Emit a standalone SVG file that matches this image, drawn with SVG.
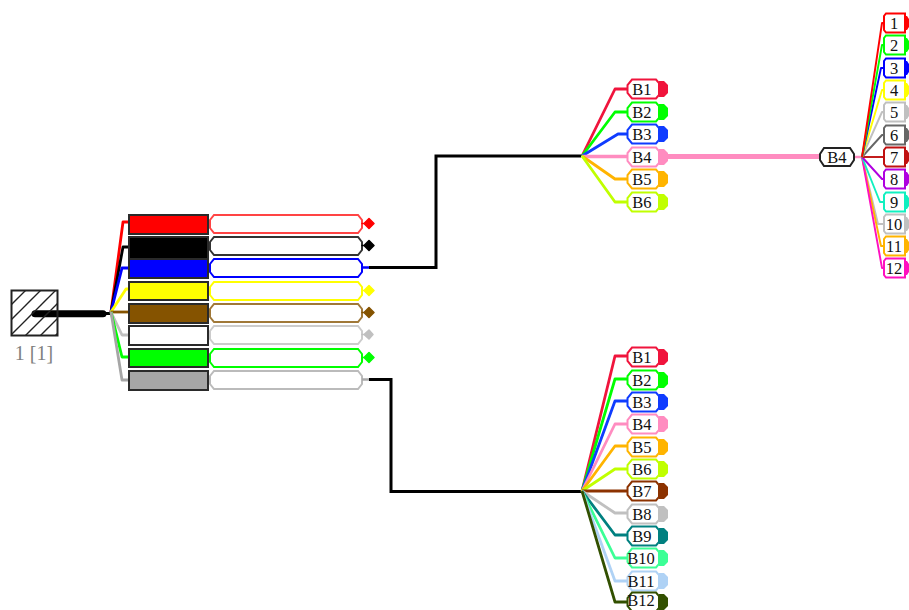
<svg xmlns="http://www.w3.org/2000/svg" xmlns:xlink="http://www.w3.org/1999/xlink" width="909" height="610" viewBox="0 0 909 610">
<style>
text{font-family:"Liberation Serif","Times New Roman",serif;font-size:16.5px;fill:#111;text-anchor:middle}
.w{fill:none;stroke-linejoin:round}
.w2{stroke-width:2.8}
.w1{stroke-width:1.9}
.bar{stroke:#2a2a2a;stroke-width:2}
.cap{fill:#fff;stroke-width:2}
.hub{fill:none;stroke:#000;stroke-width:3}
.d{stroke-width:1.5;stroke-linejoin:round}
</style>
<defs>
<pattern id="hatch" width="15" height="15" patternUnits="userSpaceOnUse" patternTransform="translate(11 290)">
<path d="M-2 17L17 -2M-2 2L2 -2M13 17L17 13" stroke="#222" stroke-width="1.4" fill="none"/>
</pattern>
<path id="long" d="M214 1H358L362 6V14L358 19H214L210 14V6Z"/>
<path id="b" d="M632 -9.500H656L659 -6V6L656 9.500H632L627.500 4V-4Z"/>
<path id="bt" d="M658 -5H659V-8H664L668 -4V4L664 8H659V5H658Z"/>
<path id="s" d="M886 -9.500H905V9.500H886L884 7V-7Z"/>
<path id="st" d="M904 -7H907L909 -4V4L907 7H904Z"/>
</defs>

<g id="connectors">
<g id="trunk">
<path d="M35 313.700H103" stroke="#000" stroke-width="7" stroke-linecap="round" fill="none"/>
<path d="M105 313.500H111" stroke="#000" stroke-width="3" fill="none"/>
</g>
<path class="hub" d="M369 267.500H436V156H581"/>
<path class="hub" d="M369 379.500H391V491.500H581"/>
<g class="w w2">
<path stroke="#f00" d="M111 312L123 222H129"/>
<path stroke="#000" d="M111 312L123 247H129"/>
<path stroke="#00f" d="M111 312L122 268H129"/>
<path stroke="#ff0" d="M111 312L126 289H129"/>
<path stroke="#855300" d="M111 312H129"/>
<path stroke="#c0c0c0" d="M111 312L122 335H129"/>
<path stroke="#0f0" d="M111 312L122 357H129"/>
<path stroke="#a6a6a6" d="M111 312L122 380H129"/>
</g>
<g class="w w2">
<path stroke="#f0143c" d="M582 156L615 89H628"/>
<path stroke="#0f0" d="M582 156L615 112H628"/>
<path stroke="#0f3cff" d="M582 156L618 134H628"/>
<path stroke="#ff8cc0" stroke-width="3.500" d="M582 156.500H628"/>
<path stroke="#ffb400" d="M582 156L615 179H628"/>
<path stroke="#c0ff00" d="M582 156L615 202H628"/>
</g>
<path d="M667 156.500H820" stroke="#ff8cc0" stroke-width="5" fill="none"/>
<path d="M855 157H862" stroke="#ff8cc0" stroke-width="2.500" fill="none"/>
<g class="w w1">
<path stroke="#c0c0c0" d="M862 157L878 224H884"/>
<path stroke="#ffb400" d="M862 157L881 246H884"/>
<path stroke="#ff10c0" d="M862 157L882 268H884"/>
<path stroke="#10f0c0" d="M862 157L880 202H884"/>
<path stroke="#b000e0" d="M862 157L882 179H884"/>
<path stroke="#c01010" d="M862 157H884"/>
<path stroke="#666" d="M862 157L882 135H884"/>
<path stroke="#c0c0c0" d="M862 157L882 112H884"/>
<path stroke="#ff0" d="M862 157L882 90H884"/>
<path stroke="#00f" d="M862 157L881 68H884"/>
<path stroke="#0f0" d="M862 157L882 45H884"/>
<path stroke="#f00" d="M862 157L882 23H884"/>
</g>
<g class="w w2">
<path stroke="#f0143c" d="M582 491L615 356H628"/>
<path stroke="#0f0" d="M582 491L615 379H628"/>
<path stroke="#0f3cff" d="M582 491L615 401H628"/>
<path stroke="#ff8cc0" d="M582 491L615 424H628"/>
<path stroke="#ffb400" d="M582 491L615 446H628"/>
<path stroke="#c0ff00" d="M582 491L615 469H628"/>
<path stroke="#8c3200" d="M582 491H628"/>
<path stroke="#c0c0c0" d="M582 491L615 513H628"/>
<path stroke="#008080" d="M582 491L615 535H628"/>
<path stroke="#3cff96" d="M582 491L615 558H628"/>
<path stroke="#afd2f5" d="M582 491L615 581H628"/>
<path stroke="#325000" d="M582 491L615 602H628"/>
</g>
</g>

<g id="source">
<rect x="11.500" y="290.500" width="46" height="45" fill="url(#hatch)" stroke="#222" stroke-width="2"/>
<text x="34" y="360" style="font-size:20px;fill:#808080">1 [1]</text>
</g>

<g id="bars">
<rect id="bar1" class="bar" x="129" y="215" width="79" height="19" fill="#f00"/>
<rect id="bar2" class="bar" x="129" y="237" width="79" height="22" fill="#000"/>
<rect id="bar3" class="bar" x="129" y="259" width="79" height="19" fill="#00f"/>
<rect id="bar4" class="bar" x="129" y="282" width="79" height="18" fill="#ff0"/>
<rect id="bar5" class="bar" x="129" y="304" width="79" height="19" fill="#855300"/>
<rect id="bar6" class="bar" x="129" y="326" width="79" height="19" fill="#fff"/>
<rect id="bar7" class="bar" x="129" y="349" width="79" height="18" fill="#0f0"/>
<rect id="bar8" class="bar" x="129" y="371" width="79" height="19" fill="#a6a6a6"/>
</g>

<g id="sheaths">
<g id="sheath1"><use xlink:href="#long" class="cap" stroke="#f44" y="214"/><path class="d" d="M362 223.500H364L369 218.500L374 223.500L369 228.500L364 223.500Z" fill="#f00" stroke="#f00"/></g>
<g id="sheath2"><use xlink:href="#long" class="cap" stroke="#333" y="236"/><path class="d" d="M362 245.500H364L369 240.500L374 245.500L369 250.500L364 245.500Z" fill="#000" stroke="#000"/></g>
<g id="sheath3"><use xlink:href="#long" class="cap" stroke="#00f" y="258"/><path d="M362 267.500H369" stroke="#00f" stroke-width="2.500"/></g>
<g id="sheath4"><use xlink:href="#long" class="cap" stroke="#ff0" y="281"/><path class="d" d="M362 290.500H364L369 285.500L374 290.500L369 295.500L364 290.500Z" fill="#ff0" stroke="#ff0"/></g>
<g id="sheath5"><use xlink:href="#long" class="cap" stroke="#a07838" y="303"/><path class="d" d="M362 312.500H364L369 307.500L374 312.500L369 317.500L364 312.500Z" fill="#855300" stroke="#855300"/></g>
<g id="sheath6"><use xlink:href="#long" class="cap" stroke="#ccc" y="325"/><path class="d" d="M362 334.500H364L369 330L373 334.500L369 339L364 334.500Z" fill="#c0c0c0" stroke="#c0c0c0"/></g>
<g id="sheath7"><use xlink:href="#long" class="cap" stroke="#0f0" y="348"/><path class="d" d="M362 357.500H364L369 352.500L374 357.500L369 362.500L364 357.500Z" fill="#0f0" stroke="#0f0"/></g>
<g id="sheath8"><use xlink:href="#long" class="cap" stroke="#bbb" y="370"/><path d="M362 379.500H369" stroke="#aaa" stroke-width="2.500"/></g>
</g>

<g id="upper-bundle">
<g id="u1"><use xlink:href="#bt" y="89" fill="#f0143c"/><use xlink:href="#b" y="89" class="cap" stroke="#f0143c"/><text x="642" y="95">B1</text></g>
<g id="u2"><use xlink:href="#bt" y="112" fill="#0f0"/><use xlink:href="#b" y="112" class="cap" stroke="#0f0"/><text x="642" y="118">B2</text></g>
<g id="u3"><use xlink:href="#bt" y="134" fill="#0f3cff"/><use xlink:href="#b" y="134" class="cap" stroke="#0f3cff"/><text x="642" y="140">B3</text></g>
<g id="u4"><use xlink:href="#bt" y="157" fill="#ff8cc0"/><use xlink:href="#b" y="157" class="cap" stroke="#ff8cc0"/><text x="642" y="163">B4</text></g>
<g id="u5"><use xlink:href="#bt" y="179" fill="#ffb400"/><use xlink:href="#b" y="179" class="cap" stroke="#ffb400"/><text x="642" y="185">B5</text></g>
<g id="u6"><use xlink:href="#bt" y="202" fill="#c0ff00"/><use xlink:href="#b" y="202" class="cap" stroke="#c0ff00"/><text x="642" y="208">B6</text></g>
</g>

<g id="b4-node">
<path class="cap" stroke="#222" d="M824 148H850L854 154V160L850 166H824L820 160V154Z"/>
<text x="837" y="163">B4</text>
</g>

<g id="fibres">
<g id="f1"><use xlink:href="#st" y="23" fill="#f00"/><use xlink:href="#s" y="23" class="cap" stroke="#f00"/><text x="894" y="29">1</text></g>
<g id="f2"><use xlink:href="#st" y="45" fill="#0f0"/><use xlink:href="#s" y="45" class="cap" stroke="#0f0"/><text x="894" y="51">2</text></g>
<g id="f3"><use xlink:href="#st" y="68" fill="#00f"/><use xlink:href="#s" y="68" class="cap" stroke="#00f"/><text x="894" y="74">3</text></g>
<g id="f4"><use xlink:href="#st" y="90" fill="#ff0"/><use xlink:href="#s" y="90" class="cap" stroke="#ff0"/><text x="894" y="96">4</text></g>
<g id="f5"><use xlink:href="#st" y="112" fill="#c0c0c0"/><use xlink:href="#s" y="112" class="cap" stroke="#c0c0c0"/><text x="894" y="118">5</text></g>
<g id="f6"><use xlink:href="#st" y="135" fill="#666"/><use xlink:href="#s" y="135" class="cap" stroke="#666"/><text x="894" y="141">6</text></g>
<g id="f7"><use xlink:href="#st" y="157" fill="#c01010"/><use xlink:href="#s" y="157" class="cap" stroke="#c01010"/><text x="894" y="163">7</text></g>
<g id="f8"><use xlink:href="#st" y="179" fill="#b000e0"/><use xlink:href="#s" y="179" class="cap" stroke="#b000e0"/><text x="894" y="185">8</text></g>
<g id="f9"><use xlink:href="#st" y="202" fill="#10f0c0"/><use xlink:href="#s" y="202" class="cap" stroke="#10f0c0"/><text x="894" y="208">9</text></g>
<g id="f10"><use xlink:href="#st" y="224" fill="#c0c0c0"/><use xlink:href="#s" y="224" class="cap" stroke="#c0c0c0"/><text x="894" y="230">10</text></g>
<g id="f11"><use xlink:href="#st" y="246" fill="#ffb400"/><use xlink:href="#s" y="246" class="cap" stroke="#ffb400"/><text x="894" y="252">11</text></g>
<g id="f12"><use xlink:href="#st" y="268" fill="#ff10c0"/><use xlink:href="#s" y="268" class="cap" stroke="#ff10c0"/><text x="894" y="274">12</text></g>
</g>

<g id="lower-bundle">
<g id="l1"><use xlink:href="#bt" y="357" fill="#f0143c"/><use xlink:href="#b" y="357" class="cap" stroke="#f0143c"/><text x="642" y="363">B1</text></g>
<g id="l2"><use xlink:href="#bt" y="380" fill="#0f0"/><use xlink:href="#b" y="380" class="cap" stroke="#0f0"/><text x="642" y="386">B2</text></g>
<g id="l3"><use xlink:href="#bt" y="402" fill="#0f3cff"/><use xlink:href="#b" y="402" class="cap" stroke="#0f3cff"/><text x="642" y="408">B3</text></g>
<g id="l4"><use xlink:href="#bt" y="424" fill="#ff8cc0"/><use xlink:href="#b" y="424" class="cap" stroke="#ff8cc0"/><text x="642" y="430">B4</text></g>
<g id="l5"><use xlink:href="#bt" y="447" fill="#ffb400"/><use xlink:href="#b" y="447" class="cap" stroke="#ffb400"/><text x="642" y="453">B5</text></g>
<g id="l6"><use xlink:href="#bt" y="469" fill="#c0ff00"/><use xlink:href="#b" y="469" class="cap" stroke="#c0ff00"/><text x="642" y="475">B6</text></g>
<g id="l7"><use xlink:href="#bt" y="491" fill="#8c3200"/><use xlink:href="#b" y="491" class="cap" stroke="#8c3200"/><text x="642" y="497">B7</text></g>
<g id="l8"><use xlink:href="#bt" y="514" fill="#c0c0c0"/><use xlink:href="#b" y="514" class="cap" stroke="#c0c0c0"/><text x="642" y="520">B8</text></g>
<g id="l9"><use xlink:href="#bt" y="536" fill="#008080"/><use xlink:href="#b" y="536" class="cap" stroke="#008080"/><text x="642" y="542">B9</text></g>
<g id="l10"><use xlink:href="#bt" y="558" fill="#3cff96"/><use xlink:href="#b" y="558" class="cap" stroke="#3cff96"/><text x="641" y="564">B10</text></g>
<g id="l11"><use xlink:href="#bt" y="581" fill="#afd2f5"/><use xlink:href="#b" y="581" class="cap" stroke="#afd2f5"/><text x="641" y="587">B11</text></g>
<g id="l12"><use xlink:href="#bt" y="602" fill="#325000"/><use xlink:href="#b" y="602" class="cap" stroke="#325000"/><text x="641" y="606">B12</text></g>
</g>
</svg>
